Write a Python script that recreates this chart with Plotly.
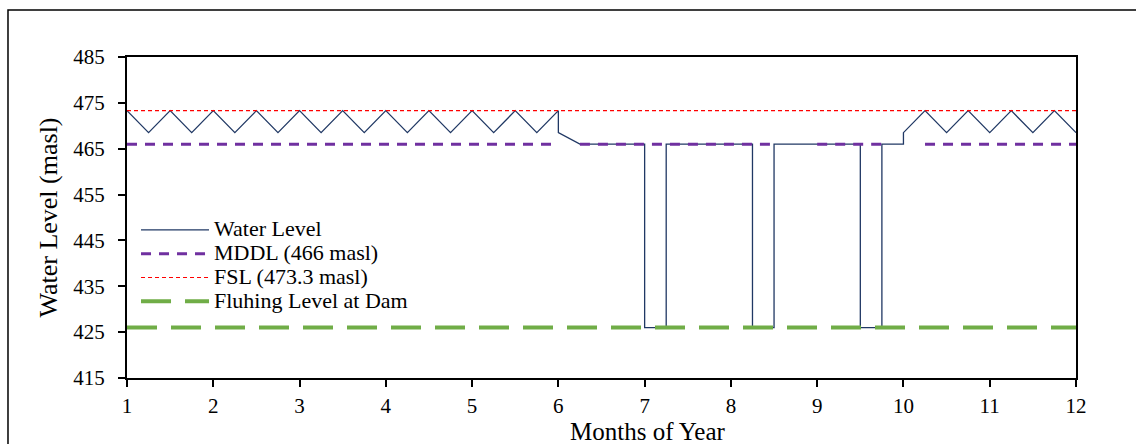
import plotly.graph_objects as go

# ---- data ----
wl_month = [1, 1.25, 1.5, 1.75, 2, 2.25, 2.5, 2.75, 3, 3.25, 3.5, 3.75, 4, 4.25, 4.5, 4.75,
            5, 5.25, 5.5, 5.75, 6, 6, 6.25, 6.5, 6.75, 7, 7, 7.25, 7.25, 7.5, 7.75, 8, 8.25,
            8.25, 8.5, 8.5, 8.75, 9, 9.25, 9.5, 9.5, 9.75, 9.75, 10, 10, 10.25, 10.5, 10.75,
            11, 11.25, 11.5, 11.75, 12]
wl_level = [473.3, 468.5, 473.3, 468.5, 473.3, 468.5, 473.3, 468.5, 473.3, 468.5, 473.3, 468.5,
            473.3, 468.5, 473.3, 468.5, 473.3, 468.5, 473.3, 468.5, 473.3, 468.5, 466, 466, 466,
            466, 426, 426, 466, 466, 466, 466, 466, 426, 426, 466, 466, 466, 466, 466, 426, 426,
            466, 466, 468.5, 473.3, 468.5, 473.3, 468.5, 473.3, 468.5, 473.3, 468.5]

mddl_month = [1, 6, 6, 6.25, 8.5, 8.75, 9, 9.75, 10, 10.25, 12]
mddl_level = [466, 466, None, 466, 466, None, 466, 466, None, 466, 466]

fsl_month = [1, 12]
fsl_level = [473.3, 473.3]

flush_month = [1, 12]
flush_level = [426, 426]

x_ticks = [1, 2, 3, 4, 5, 6, 7, 8, 9, 10, 11, 12]
y_ticks = [415, 425, 435, 445, 455, 465, 475, 485]

FONT = "Liberation Serif, Times New Roman, serif"
LEG = "<span style='font-size:22px'>{}</span>"

fig = go.Figure()
fig.add_trace(go.Scatter(x=wl_month, y=wl_level, mode="lines", name=LEG.format("Water Level"),
                         line=dict(color="#203864", width=1.3)))
fig.add_trace(go.Scatter(x=mddl_month, y=mddl_level, mode="lines", name=LEG.format("MDDL (466 masl)"),
                         connectgaps=False,
                         line=dict(color="#7030A0", width=3, dash="10px,8px")))
fig.add_trace(go.Scatter(x=fsl_month, y=fsl_level, mode="lines", name=LEG.format("FSL (473.3 masl)"),
                         line=dict(color="#FF0000", width=1.2, dash="4px,3px")))
fig.add_trace(go.Scatter(x=flush_month, y=flush_level, mode="lines",
                         name=LEG.format("Fluhing Level at Dam"),
                         line=dict(color="#70AD47", width=4, dash="30px,14px")))

axis_common = dict(showgrid=False, zeroline=False, showline=True, linecolor="black", linewidth=2,
                   ticks="outside", ticklen=7, tickwidth=1.5, tickcolor="black", automargin=False,
                   tickfont=dict(family=FONT, size=21, color="black"), mirror=True)

fig.update_layout(
    width=1136, height=444,
    margin=dict(l=127, r=60, t=57, b=66),
    paper_bgcolor="white", plot_bgcolor="white",
    font=dict(family=FONT, color="black"),
    showlegend=True,
    legend=dict(x=0.0095, y=0.514, xanchor="left", yanchor="top", bgcolor="rgba(0,0,0,0)",
                font=dict(family=FONT, size=16, color="black"), itemwidth=68,
                tracegroupgap=0),
    xaxis=dict(range=[1, 12], tickvals=x_ticks, ticktext=[str(v) for v in x_ticks],
               ticklabelstandoff=1, **axis_common),
    yaxis=dict(range=[415, 485], tickvals=y_ticks, ticktext=[str(v) for v in y_ticks],
               title=dict(text="Water Level (masl)", font=dict(family=FONT, size=26, color="black"),
                          standoff=8),
               ticklabelstandoff=9, **axis_common),
    xaxis2=dict(overlaying="x", anchor="y", side="bottom", range=[1, 12], tickvals=x_ticks,
                showticklabels=False, showgrid=False, zeroline=False, showline=False,
                ticks="inside", ticklen=6, tickwidth=1.5, tickcolor="black"),
    yaxis2=dict(overlaying="y", anchor="x", side="left", range=[415, 485], tickvals=y_ticks,
                showticklabels=False, showgrid=False, zeroline=False, showline=False,
                ticks="inside", ticklen=6, tickwidth=1.5, tickcolor="black"),
    annotations=[dict(text="Months of Year", xref="paper", yref="paper", x=0.549, y=-0.168,
                      xanchor="center", yanchor="middle", showarrow=False,
                      font=dict(family=FONT, size=25, color="black"), borderpad=0)],
    shapes=[dict(type="rect", xref="paper", yref="paper", x0=-0.1254, x1=1.2, y0=-0.4, y1=1.1464,
                 line=dict(color="black", width=1.5), fillcolor="rgba(0,0,0,0)", layer="below")],
)

fig.write_html("out.html", config={"displayModeBar": False},
               post_script="document.body.style.margin='0';")
